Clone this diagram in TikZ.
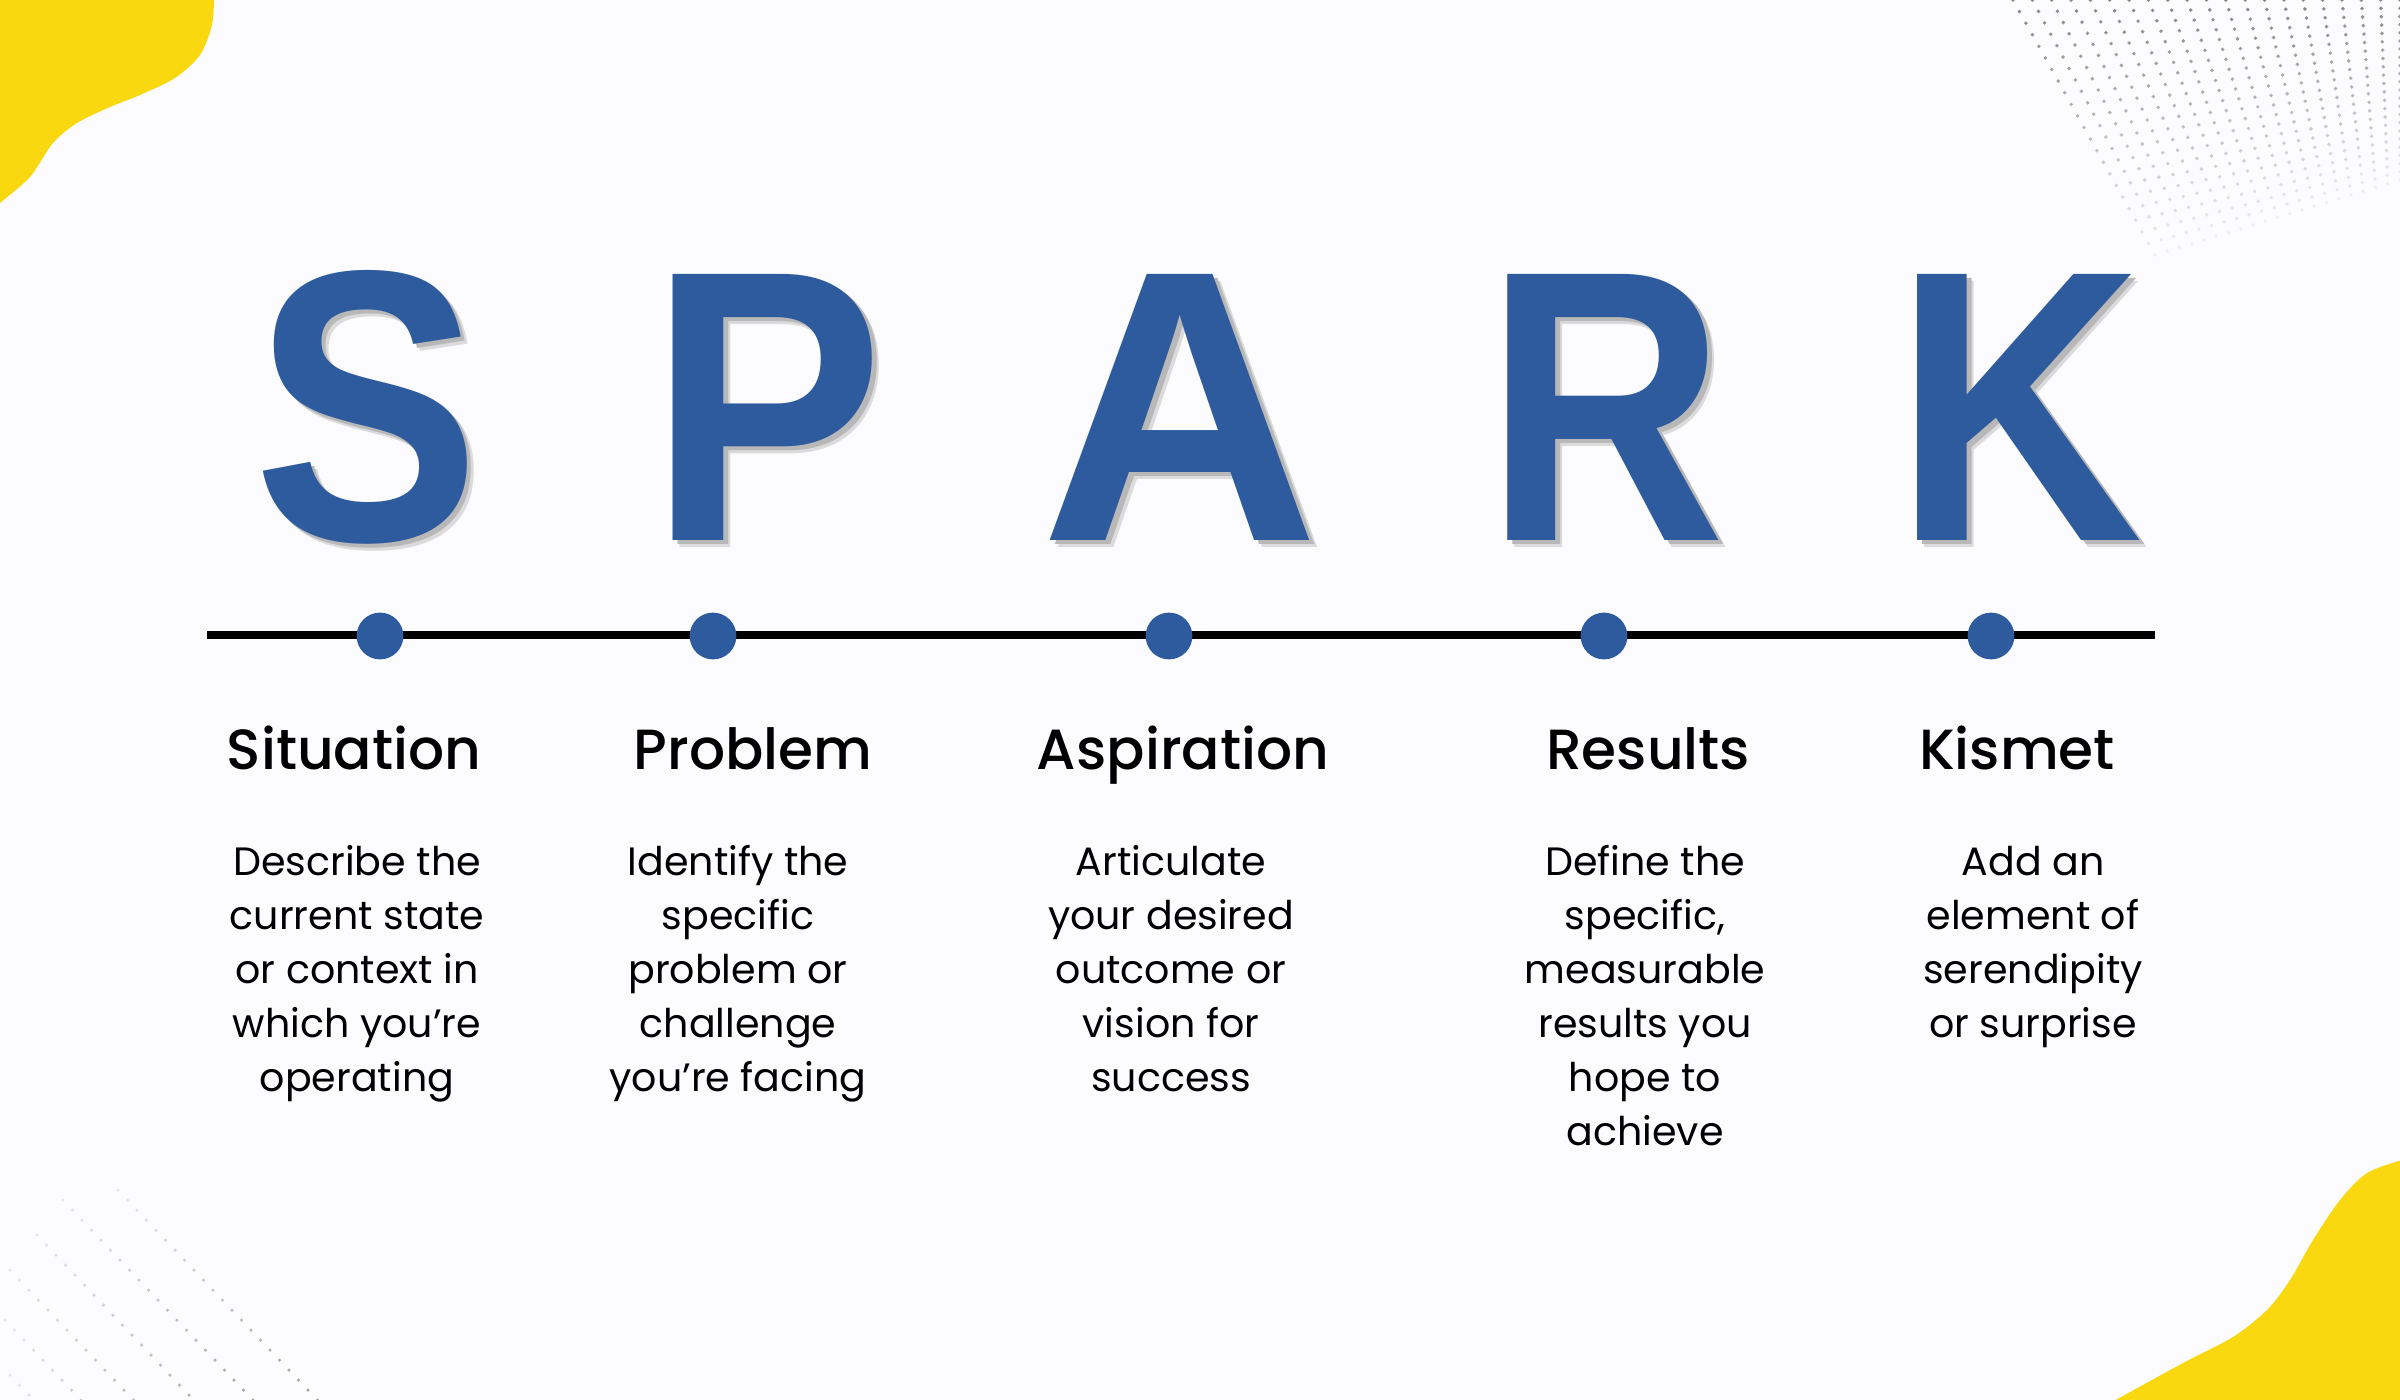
\documentclass[tikz,border=0pt]{standalone}
\usepackage{fontspec}
\setmainfont{Poppins}
\newfontfamily\popmed{Poppins Medium}
\newfontfamily\sparkfont{Liberation Sans}
\definecolor{sparkblue}{HTML}{2D5B9E}
\definecolor{blobyellow}{HTML}{F9D80F}
\definecolor{bgc}{HTML}{FCFCFE}
\definecolor{dotgray}{HTML}{4E5666}
\newcommand\shadowedletter[1]{\rlap{\kern2.2pt\raisebox{-2.2pt}{\color{black!14}#1}}\rlap{\kern1.4pt\raisebox{-1.4pt}{\color{black!28}#1}}#1}
\tikzset{
  letter/.style={font=\sparkfont\bfseries\fontsize{110}{110}\selectfont, text=sparkblue, inner sep=0pt, anchor=base, transform shape},
  tdot/.style={circle, fill=sparkblue, minimum size=13.3pt, inner sep=0pt},
  head/.style={font=\popmed\fontsize{16.1}{20}\selectfont, inner sep=0pt, anchor=base},
  body/.style={font=\fontsize{11.25}{15.3}\selectfont, inner sep=0pt, align=center, anchor=base},
}
\begin{document}
\begin{tikzpicture}[x=0.01cm,y=-0.01cm]
\useasboundingbox (0,0) rectangle (2400,1400);
\fill[bgc] (0,0) rectangle (2400,1400);
\begin{scope}
\clip (0,0) rectangle (2400,1400);
% blobs
\fill[blobyellow] plot[smooth] coordinates {(214,-2) (212,25) (200,55) (175,78) (140,95) (110,107) (77,123) (53,143) (30,177) (0,203) (-2,205)} -- (-2,-2) -- cycle;
\fill[blobyellow] plot[smooth] coordinates {(2402,1160) (2367,1173) (2340,1200) (2313,1240) (2290,1280) (2267,1310) (2233,1337) (2183,1363) (2112,1402)} -- (2402,1402) -- cycle;
% top-right dot mesh
\foreach \i in {0,...,20}{\foreach \j in {0,...,22}{
  \pgfmathsetmacro\u{\i/20}
  \pgfmathsetmacro\v{\j/22}
  \pgfmathsetmacro\px{(1-\v)*(2013+\u*387)+\v*(2155+\u*245)}
  \pgfmathsetmacro\py{\v*(255-\u*75)}
  \pgfmathsetmacro\op{0.7-0.62*\v}
  \fill[dotgray, opacity=\op] (\px,\py) circle[radius=0.55pt];
}}
% bottom-left dot rows
\foreach \sx/\sy in {118/1190, 63/1200, 37/1235, 10/1270, 5/1320, 10/1375}{
  \foreach \t in {0,...,24}{
    \pgfmathsetmacro\op{0.12+0.02*\t}
    \fill[dotgray, opacity=\op] (\sx+\t*9.5, \sy+\t*10) circle[radius=0.5pt];
  }
}
\end{scope}
% SPARK letters with drop shadow
\foreach \nm/\ch/\cx/\sc in {S/S/367/0.88, P/P/767/0.91, A/A/1180/1.0, R/R/1606/0.86, K/K/2019/0.89}{
  \node[letter, xscale=\sc] (L\nm) at (\cx,540) {\shadowedletter{\ch}};
}
% timeline
\coordinate (tl) at (207,635);
\coordinate (tr) at (2155,635);
\draw[line width=2.3pt] (tl) -- (tr);
\node[tdot] (d1) at (380,636) {};
\node[tdot] (d2) at (713,636) {};
\node[tdot] (d3) at (1169,636) {};
\node[tdot] (d4) at (1604,636) {};
\node[tdot] (d5) at (1991,636) {};
% headings
\node[head] (h1) at (354,769) {Situation};
\node[head] (h2) at (753,769) {Problem};
\node[head] (h3) at (1183,769) {Aspiration};
\node[head] (h4) at (1648,769) {Results};
\node[head] (h5) at (2017,769) {Kismet};
% bodies (base anchor = last line baseline; first baseline at 875, step 54)
\node[body] (b1) at (357,1091) {Describe the\\current state\\or context in\\which you're\\operating};
\node[body] (b2) at (738,1091) {Identify the\\specific\\problem or\\challenge\\you're facing};
\node[body] (b3) at (1171,1091) {Articulate\\your desired\\outcome or\\vision for\\success};
\node[body] (b4) at (1645,1145) {Define the\\specific,\\measurable\\results you\\hope to\\achieve};
\node[body] (b5) at (2033,1037) {Add an\\element of\\serendipity\\or surprise};
\end{tikzpicture}
\end{document}
